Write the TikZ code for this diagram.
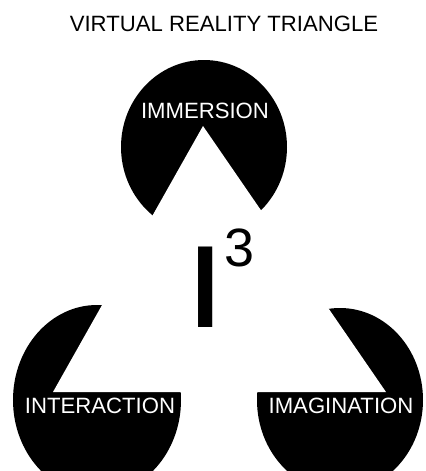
\documentclass[tikz,border=0pt]{standalone}
\usepackage{fontspec}
\setmainfont{Liberation Sans}
\usepackage{tikz}

\begin{document}
\begin{tikzpicture}[x=0.02cm, y=-0.02cm,
    scritta/.style={text=white, inner sep=0pt, font=\fontsize{12.6}{15}\selectfont}]
    \useasboundingbox (0,0) rectangle (426,471);
    \clip (0,0) rectangle (426,471);
    % cerchi
    \fill[black] (204,147) ellipse [x radius=83, y radius=87];
    \fill[black] (97,400) ellipse [x radius=84, y radius=95];
    \fill[black] (340,400) ellipse [x radius=83, y radius=92];
    % triangolo
    \coordinate (apice) at (203,126);
    \coordinate (sx) at (53,392);
    \coordinate (dx) at (386,392);
    \fill[white] (apice) -- (sx) -- (dx) -- cycle;
    % etichette
    \node[scritta] (immersion) at (205,111) {IMMERSION};
    \node[scritta] (interaction) at (100,406) {INTERACTION};
    \node[scritta] (imagination) at (341,406) {IMAGINATION};
    \node[inner sep=0pt, font=\fontsize{12.6}{15}\selectfont] (titolo) at (224,23.5) {VIRTUAL REALITY TRIANGLE};
    % I^3
    \node[inner sep=0pt, font=\fontsize{66.6}{70}\selectfont] (ii) at (205.5,287) {\scalebox{1.3}[1]{I}};
    \node[inner sep=0pt, font=\fontsize{30.7}{34}\selectfont] (tre) at (239,247.5) {3};
\end{tikzpicture}
\end{document}
